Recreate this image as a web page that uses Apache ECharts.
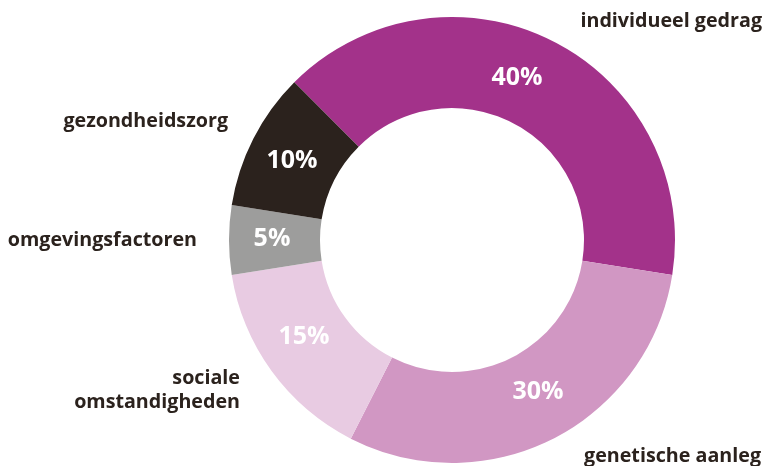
<!DOCTYPE html>
<html>
<head>
<meta charset="utf-8">
<script src="https://cdn.jsdelivr.net/npm/echarts@6/dist/echarts.min.js"></script>
<style>
  html, body { margin: 0; padding: 0; background: #fff; }
  #chart { width: 764px; height: 466px; }
</style>
</head>
<body>
<div id="chart"></div>
<script>
// data
const categories = ['individueel gedrag', 'genetische aanleg', 'sociale\nomstandigheden', 'omgevingsfactoren', 'gezondheidszorg']
const values = [40, 30, 15, 5, 10]
const colors = ['#a3328a', '#d197c3', '#e8cbe2', '#9d9d9c', '#2b221d']

// where the name labels sit (x, y, align)
const namePos = [
  [762, 21, 'right'],
  [761, 456, 'right'],
  [240, 390, 'right'],
  [197, 240, 'right'],
  [228, 121, 'right']
]
const pctPos = [
  [517, 78], [538, 392], [304, 337], [272, 239], [292, 161]
]

const chart = echarts.init(document.getElementById('chart'))

const pieData = categories.map((name, i) => ({
  name: name,
  value: values[i],
  itemStyle: { color: colors[i] }
}))

chart.setOption({
  animation: false,
  series: [
    {
      type: 'pie',
      center: [452, 240],
      radius: [132, 223],
      startAngle: 135,
      clockwise: true,
      silent: true,
      data: pieData,
      label: {
        position: 'inside',
        formatter: p => p.value + '%',
        color: '#fff',
        fontFamily: 'Open Sans',
        fontWeight: 'bold',
        fontSize: 25
      },
      labelLayout: p => ({
        x: pctPos[p.dataIndex][0],
        y: pctPos[p.dataIndex][1],
        align: 'center',
        verticalAlign: 'middle'
      }),
      labelLine: { show: false }
    },
    {
      type: 'pie',
      center: [452, 240],
      radius: [132, 223],
      startAngle: 135,
      silent: true,
      data: pieData.map(d => ({ name: d.name, value: d.value, itemStyle: { color: 'transparent' } })),
      label: {
        position: 'outside',
        formatter: '{b}',
        color: '#2b221d',
        fontFamily: 'Open Sans',
        fontWeight: 'bold',
        fontSize: 19.7,
        lineHeight: 24,
        align: 'right',
        overflow: 'none',
        width: 300
      },
      labelLine: { show: false },
      labelLayout: p => ({
        x: namePos[p.dataIndex][0],
        y: namePos[p.dataIndex][1],
        align: namePos[p.dataIndex][2],
        verticalAlign: 'middle'
      })
    }
  ]
})
</script>
</body>
</html>
